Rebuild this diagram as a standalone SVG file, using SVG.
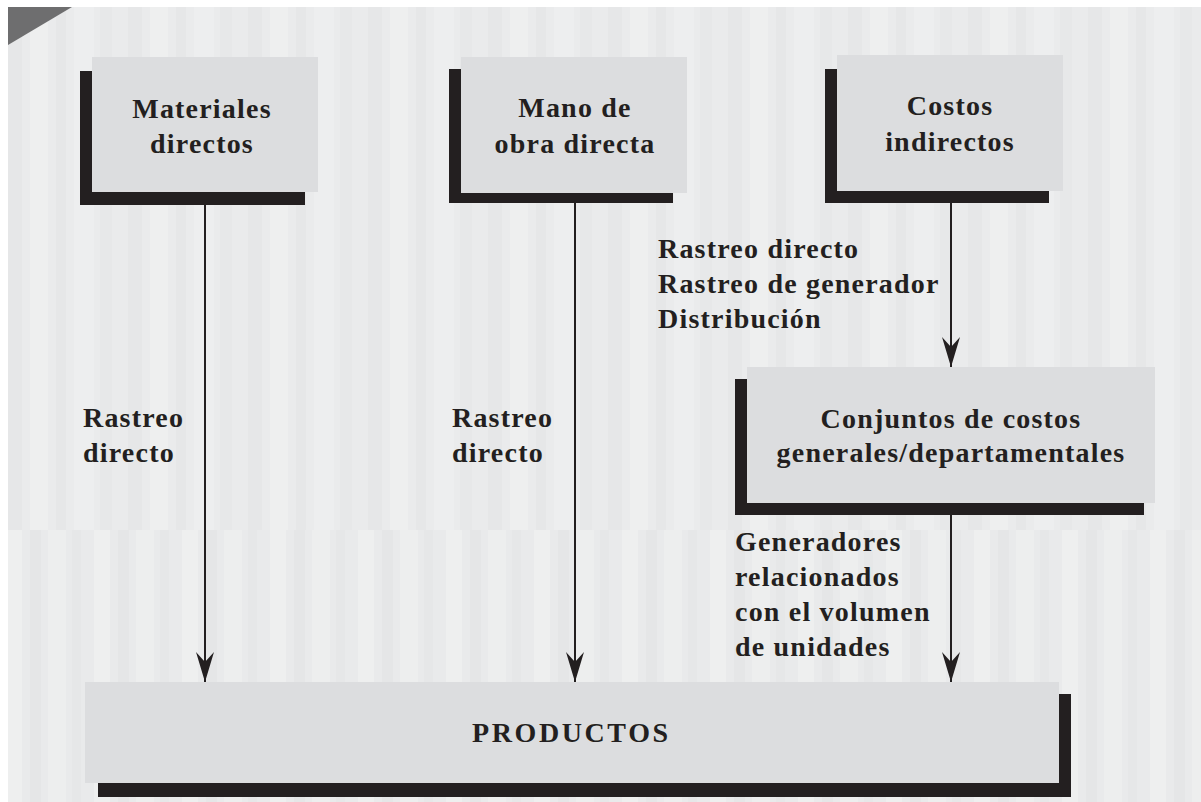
<svg xmlns="http://www.w3.org/2000/svg" width="1201" height="802" viewBox="0 0 1201 802">
  <defs>
    <pattern id="stripesTop" x="8" y="0" width="120" height="10" patternUnits="userSpaceOnUse">
      <rect x="0" y="0" width="120" height="10" fill="#eaebec"/>
      <rect x="0" y="0" width="14" height="10" fill="#e6e7e8"/>
      <rect x="22" y="0" width="18" height="10" fill="#eeefef"/>
      <rect x="48" y="0" width="10" height="10" fill="#e6e7e8"/>
      <rect x="66" y="0" width="20" height="10" fill="#edeeef"/>
      <rect x="92" y="0" width="12" height="10" fill="#e7e8e9"/>
    </pattern>
    <pattern id="stripesBot" x="0" y="0" width="88" height="10" patternUnits="userSpaceOnUse">
      <rect x="0" y="0" width="88" height="10" fill="#e9eaeb"/>
      <rect x="6" y="0" width="16" height="10" fill="#eeefef"/>
      <rect x="30" y="0" width="11" height="10" fill="#e5e6e7"/>
      <rect x="48" y="0" width="18" height="10" fill="#edeeee"/>
      <rect x="72" y="0" width="9" height="10" fill="#e6e7e8"/>
    </pattern>
    <marker id="arrow" viewBox="-31 -10 32 20" refX="0" refY="0" markerWidth="32" markerHeight="20" markerUnits="userSpaceOnUse" orient="auto">
      <path d="M0,0 L-30,-9 L-20,0 L-30,9 Z" fill="#231f20"/>
    </marker>
    <style>
      .shadow { fill: #231f20; }
      .box { fill: #dcdddf; }
      .node { font-family: "Liberation Serif", "Times New Roman", serif; font-size: 28px; font-weight: bold; fill: #231f20; letter-spacing: 1.2px; text-anchor: middle; }
      .lbl { font-family: "Liberation Serif", "Times New Roman", serif; font-size: 28px; font-weight: bold; fill: #231f20; letter-spacing: 1.2px; }
      .prod { font-family: "Liberation Serif", "Times New Roman", serif; font-size: 28px; font-weight: bold; fill: #231f20; letter-spacing: 2.6px; }
      .conn { stroke: #231f20; stroke-width: 2; fill: none; marker-end: url(#arrow); }
    </style>
  </defs>

  <!-- background -->
  <rect x="0" y="0" width="1201" height="802" fill="#ffffff"/>
  <rect x="8" y="7" width="1193" height="523" fill="url(#stripesTop)"/>
  <rect x="8" y="530" width="1193" height="272" fill="url(#stripesBot)"/>
  <polygon points="8,7 72,7 8,45" fill="#6e6e6f"/>

  <!-- connectors -->
  <g id="connectors">
    <line class="conn" x1="205" y1="205" x2="205" y2="682"/>
    <line class="conn" x1="575" y1="203" x2="575" y2="682"/>
    <line class="conn" x1="951" y1="203" x2="951" y2="367"/>
    <line class="conn" x1="951" y1="515" x2="951" y2="682"/>
  </g>

  <!-- nodes -->
  <g id="materiales">
    <rect class="shadow" x="80" y="71" width="225" height="134"/>
    <rect class="box" x="92" y="57" width="226" height="135"/>
    <text class="node" x="202" y="118">Materiales</text>
    <text class="node" x="202" y="153">directos</text>
  </g>

  <g id="mano-obra">
    <rect class="shadow" x="449" y="69" width="224" height="134"/>
    <rect class="box" x="461" y="57" width="226" height="136"/>
    <text class="node" x="575" y="117">Mano de</text>
    <text class="node" x="575" y="153">obra directa</text>
  </g>

  <g id="costos-indirectos">
    <rect class="shadow" x="825" y="69" width="224" height="134"/>
    <rect class="box" x="837" y="55" width="226" height="136"/>
    <text class="node" x="950" y="115">Costos</text>
    <text class="node" x="950" y="151">indirectos</text>
  </g>

  <g id="conjuntos">
    <rect class="shadow" x="735" y="379" width="409" height="136"/>
    <rect class="box" x="747" y="367" width="408" height="136"/>
    <text class="node" x="951" y="428">Conjuntos de costos</text>
    <text class="node" x="951" y="462">generales/departamentales</text>
  </g>

  <g id="productos">
    <rect class="shadow" x="98" y="694" width="973" height="103"/>
    <rect class="box" x="85" y="682" width="974" height="101"/>
    <text class="prod" x="472" y="742">PRODUCTOS</text>
  </g>

  <!-- connector labels -->
  <g id="labels">
    <text class="lbl" x="83" y="427">Rastreo</text>
    <text class="lbl" x="83" y="462">directo</text>
    <text class="lbl" x="452" y="427">Rastreo</text>
    <text class="lbl" x="452" y="462">directo</text>
    <text class="lbl" x="658" y="258">Rastreo directo</text>
    <text class="lbl" x="658" y="293">Rastreo de generador</text>
    <text class="lbl" x="658" y="328">Distribución</text>
    <text class="lbl" x="735" y="551">Generadores</text>
    <text class="lbl" x="735" y="586">relacionados</text>
    <text class="lbl" x="735" y="621">con el volumen</text>
    <text class="lbl" x="735" y="656">de unidades</text>
  </g>
</svg>
